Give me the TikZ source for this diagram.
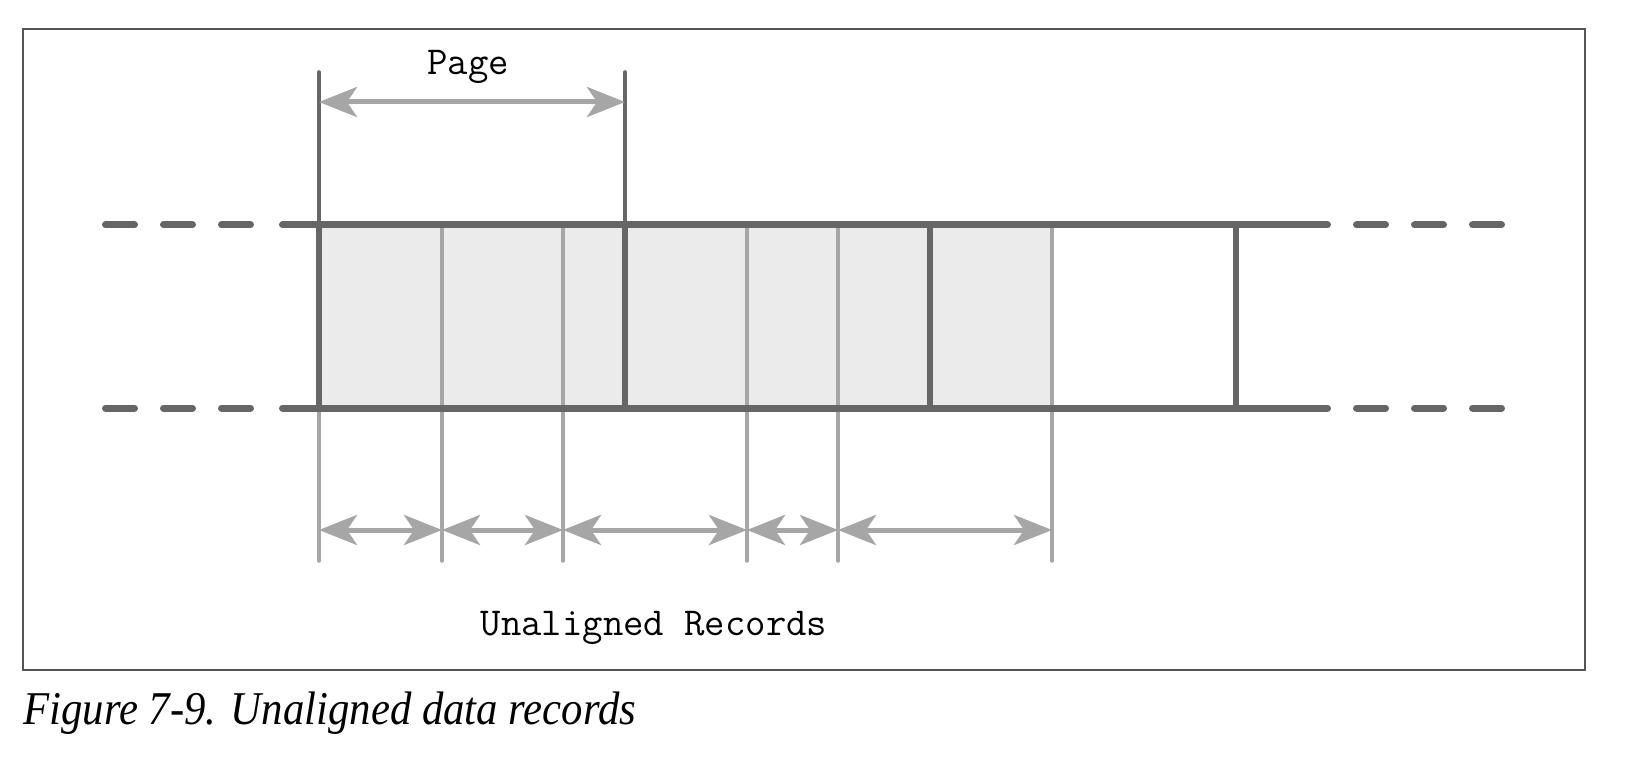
\documentclass[tikz,border=0pt]{standalone}
\usepackage{fontspec}
\newfontfamily\capfont{Liberation Serif}[FakeStretch=0.91]
\usetikzlibrary{arrows.meta,positioning}
\definecolor{bandgray}{HTML}{666666}
\definecolor{recgray}{HTML}{A6A6A6}
\definecolor{cellgray}{HTML}{EBEBEB}
\definecolor{framegray}{HTML}{555555}
\begin{document}
\begin{tikzpicture}[x=0.5pt,y=-0.5pt,
band/.style={draw=bandgray,line width=3.5pt,line cap=round},
bandgap/.style={band,dash pattern=on 14.5pt off 14.5pt},
pageline/.style={draw=bandgray,line width=3pt},
pagetick/.style={draw=bandgray,line width=1.75pt,line cap=round},
recline/.style={draw=recgray,line width=1.75pt,line cap=round},
dim/.style={draw=recgray,line width=2.5pt,
  {Stealth[length=19pt,width=15pt,inset=5pt]}-{Stealth[length=19pt,width=15pt,inset=5pt]}},
txt/.style={font=\fontsize{19.8}{22}\selectfont\ttfamily,inner sep=0pt,anchor=base}]

        \useasboundingbox (0,0) rectangle (1626,764);

        % records and pages
        \fill[cellgray] (319,225) rectangle (1052,408);
        \foreach \x in {319,442,563,747,838,1052}
            \draw[recline] (\x,225) -- (\x,561);
        \foreach \x in {319,625,930,1236}
            \draw[pageline] (\x,225) -- (\x,408);
        \foreach \y in {225,408} {
            \draw[bandgap] (105.5,\y) -- (252,\y);
            \draw[band] (282.5,\y) -- (1327.5,\y);
            \draw[bandgap] (1356.5,\y) -- (1502,\y);
        }
        \draw[pagetick] (319,225) -- (319,72) (625,225) -- (625,72);

        \coordinate (P0) at (319,102);
        \coordinate (P1) at (625,102);
        \draw[dim] (P0) -- (P1);
        \node[txt] (page) at (468,75) {Page};

        \foreach \x [count=\i from 0] in {319,442,563,747,838,1052}
            \coordinate (R\i) at (\x,530);
        \foreach \i/\j in {0/1,1/2,2/3,3/4,4/5}
            \draw[dim] (R\i) -- (R\j);
        \node[txt] (recs) at (654,635) {Unaligned Records};

        \draw[framegray,line width=1pt] (23,29) rectangle (1585,670);
        \node[anchor=base west,inner sep=0pt,font=\capfont\itshape\fontsize{23.5}{28}\selectfont] (cap) at (23,724) {Figure 7-9. Unaligned data records};
    \end{tikzpicture}
\end{document}
